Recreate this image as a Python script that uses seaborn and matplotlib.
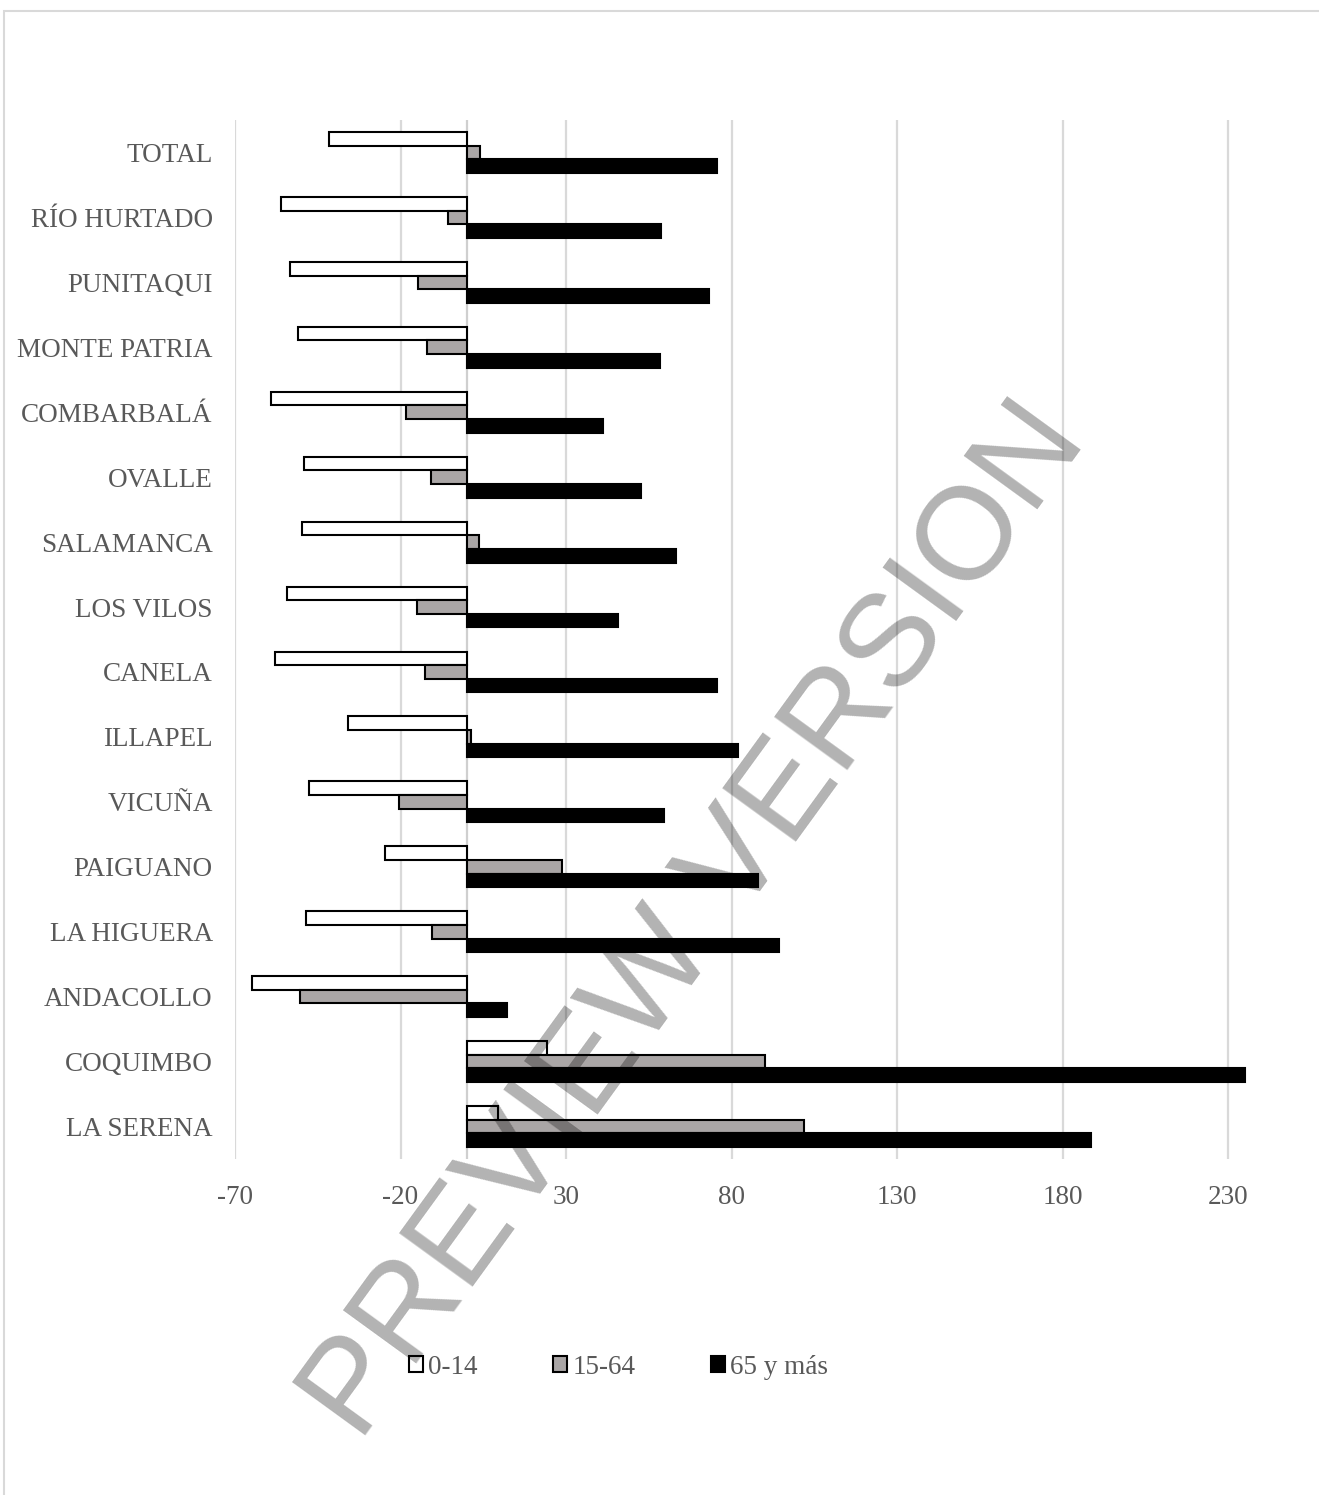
import numpy as np
import pandas as pd
import matplotlib
matplotlib.use("Agg")
import matplotlib.pyplot as plt
import seaborn as sns
from matplotlib.patches import Patch, Rectangle

# Variación porcentual de la población por grupo de edad y comuna
comunas = ["TOTAL", "RÍO HURTADO", "PUNITAQUI", "MONTE PATRIA", "COMBARBALÁ",
           "OVALLE", "SALAMANCA", "LOS VILOS", "CANELA", "ILLAPEL", "VICUÑA",
           "PAIGUANO", "LA HIGUERA", "ANDACOLLO", "COQUIMBO", "LA SERENA"]
grupos = ["0-14", "15-64", "65 y más"]
v_0_14 = [-41.6, -56.1, -53.5, -51.0, -59.2, -49.1, -49.8, -54.2, -57.9, -36.0,
          -47.6, -24.6, -48.5, -65.0, 24.4, 9.6]
v_15_64 = [4.0, -5.8, -14.8, -11.9, -18.4, -10.7, 3.8, -14.9, -12.6, 1.3,
           -20.6, 28.7, -10.5, -50.3, 90.2, 101.8]
v_65_mas = [75.5, 58.6, 73.3, 58.4, 41.2, 52.6, 63.3, 45.8, 75.6, 82.0,
            59.6, 88.1, 94.4, 12.3, 235.0, 188.5]
ticks_x = [-70, -20, 30, 80, 130, 180, 230]

colores = {"0-14": "#ffffff", "15-64": "#aaa6a6", "65 y más": "#000000"}

df = pd.DataFrame({
    "comuna": comunas * 3,
    "grupo": [g for g in grupos for _ in comunas],
    "valor": v_0_14 + v_15_64 + v_65_mas,
})

sns.set_theme(style="white")
plt.rcParams["font.family"] = ["Liberation Serif", "DejaVu Serif"]

W, H = 1319, 1495
fig = plt.figure(figsize=(W / 100, H / 100), dpi=100)
fig.patch.set_facecolor("white")

ax_left, ax_top, ax_bottom = 235, 120, 1159
ax = fig.add_axes([ax_left / W, 1 - ax_bottom / H, 1 - ax_left / W,
                   (ax_bottom - ax_top) / H])

sns.barplot(data=df, x="valor", y="comuna", hue="grupo", order=comunas,
            hue_order=grupos, palette=colores, orient="h", width=0.63,
            gap=0, saturation=1, edgecolor="black", linewidth=1.5,
            errorbar=None, legend=False, ax=ax)

px_per_unit = 3.31
ax.set_xlim(-70, -70 + (W - ax_left) / px_per_unit)
ax.set_ylim(len(comunas) - 0.5, -0.5)
ax.set_xticks(ticks_x)
ax.set_xticklabels([str(t) for t in ticks_x])
ax.xaxis.grid(True, color="#d9d9d9", linewidth=1.6)
ax.yaxis.grid(False)
ax.set_axisbelow(True)
for s in ax.spines.values():
    s.set_visible(False)
ax.axvline(0, color="#cfcfcf", linewidth=1.6, zorder=0.7)

ax.set_xlabel("")
ax.set_ylabel("")
ax.tick_params(axis="y", length=0, pad=16, labelsize=19.5, labelcolor="#595959")
ax.tick_params(axis="x", length=0, pad=19, labelsize=19.5, labelcolor="#595959")

handles = [Patch(facecolor=colores[g], edgecolor="black", linewidth=1.5) for g in grupos]
fig.legend(handles, grupos, loc="center", bbox_to_anchor=(0.469, 1 - 1367 / H),
           ncol=3, frameon=False, fontsize=19.5, handlelength=0.5,
           handleheight=0.5, handletextpad=0.2, columnspacing=2.8,
           labelcolor="#595959")

# borde del área del gráfico
fig.add_artist(Rectangle((4 / W, -0.1), 1.2, (1 - 11 / H) + 0.1,
                         transform=fig.transFigure, fill=False,
                         edgecolor="#d9d9d9", linewidth=1.5))

fig.text(0.527, 1 - 922 / H, "PREVIEW VERSION", rotation=54,
         rotation_mode="anchor", ha="center", va="center", fontsize=95,
         color="black", alpha=0.3, family=["Liberation Sans", "DejaVu Sans"],
         zorder=10)

fig.savefig("out.png", dpi=100)
